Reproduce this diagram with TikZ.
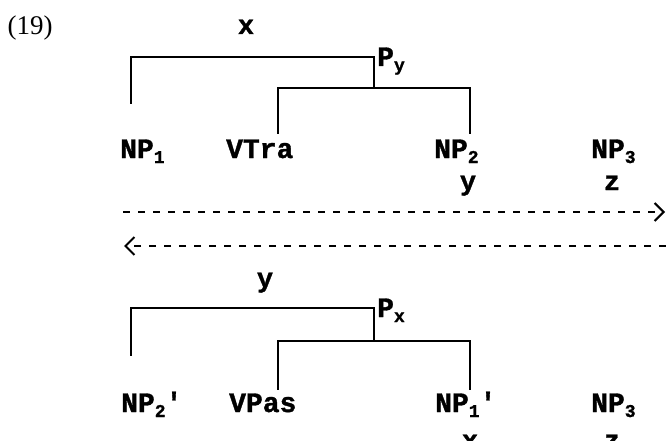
\documentclass[tikz,border=0pt]{standalone}
\usepackage{fontspec}
\usetikzlibrary{arrows.meta}
\newfontfamily\monofnt{Liberation Mono}[UprightFont={* Bold}, UprightFeatures={FakeBold=1.2}]
\newfontfamily\seriffnt{Liberation Serif}
\newcommand\lsub[1]{\raisebox{-5pt}{\fontsize{18}{18}\selectfont #1}}
\tikzset{
  lbl/.style={font=\monofnt\fontsize{28}{28}\selectfont, inner sep=0pt, anchor=base west},
  var/.style={font=\monofnt\fontsize{27}{27}\selectfont, inner sep=0pt, anchor=base},
  branch/.style={line width=2.2pt, line cap=rect},
  movearrow/.style={line width=2pt, dash pattern=on 7pt off 8pt, -{Straight Barb[length=9pt,width=18pt,line width=2pt]}}
}
\begin{document}
\begin{tikzpicture}[x=1pt,y=-1pt]
\useasboundingbox (0,0) rectangle (666,441);
% example number
\node[font=\seriffnt\fontsize{27}{27}\selectfont, inner sep=0pt] (num) at (30,28) {(19)};
% ---------- upper tree ----------
\node[var] (vx) at (246,34) {x};
\node[lbl] (Py) at (377,66) {P\lsub{y}};
\node[lbl] (np1) at (120,158) {NP\lsub{1}};
\node[lbl] (vtra) at (226,158) {VTra};
\node[lbl] (np2) at (434,158) {NP\lsub{2}};
\node[lbl] (np3) at (591,158) {NP\lsub{3}};
\node[var] (vy1) at (468,190) {y};
\node[var] (vz1) at (612,190) {z};
\coordinate (a1) at (131,103);
\coordinate (a2) at (131,57);
\coordinate (a3) at (374,57);
\coordinate (a4) at (374,88);
\coordinate (b1) at (278,133);
\coordinate (b2) at (278,88);
\coordinate (b3) at (470,88);
\coordinate (b4) at (470,133);
\draw[branch] (a1) -- (a2) -- (a3) -- (a4);
\draw[branch] (b1) -- (b2) -- (b3) -- (b4);
% ---------- arrows ----------
\coordinate (r1) at (123,212);
\coordinate (r2) at (665,212);
\coordinate (l1) at (666,246);
\coordinate (l2) at (124,246);
\draw[movearrow] (r1) -- (r2);
\draw[movearrow] (l1) -- (l2);
% ---------- lower tree ----------
\node[var] (vy2) at (265,287) {y};
\node[lbl] (Px) at (377,317) {P\lsub{x}};
\node[lbl] (np2p) at (121,412) {NP\lsub{2}'};
\node[lbl] (vpas) at (229,412) {VPas};
\node[lbl] (np1p) at (435,412) {NP\lsub{1}'};
\node[lbl] (np3b) at (591,412) {NP\lsub{3}};
\node[var] (vx2) at (470,449) {x};
\node[var] (vz2) at (612,449) {z};
\coordinate (c1) at (131,355);
\coordinate (c2) at (131,308);
\coordinate (c3) at (374,308);
\coordinate (c4) at (374,341);
\coordinate (d1) at (278,389);
\coordinate (d2) at (278,341);
\coordinate (d3) at (470,341);
\coordinate (d4) at (470,389);
\draw[branch] (c1) -- (c2) -- (c3) -- (c4);
\draw[branch] (d1) -- (d2) -- (d3) -- (d4);
\end{tikzpicture}
\end{document}
